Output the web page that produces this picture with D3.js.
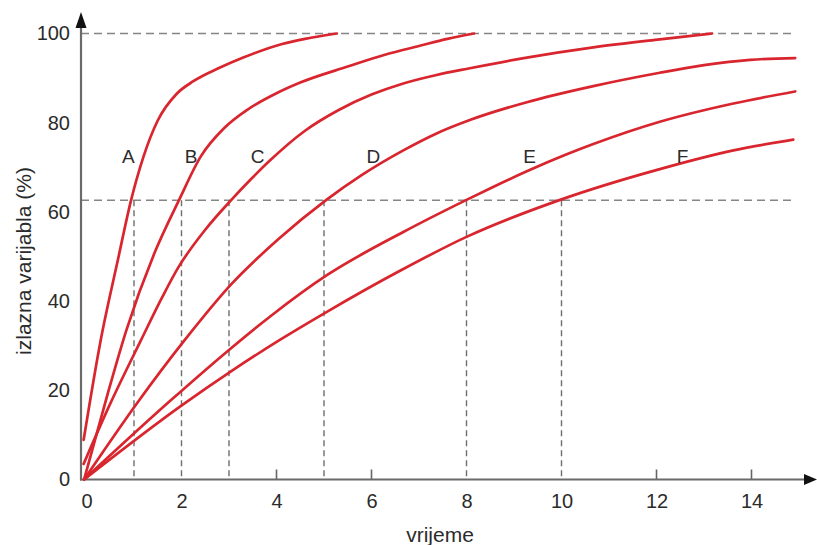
<!DOCTYPE html>
<html>
<head>
<meta charset="utf-8">
<script src="https://cdn.jsdelivr.net/npm/d3@7"></script>
<style>
  html, body { margin: 0; padding: 0; background: #fff; }
  svg { display: block; }
  text { font-family: "Liberation Sans", Arial, Helvetica, sans-serif; fill: #2b2b2b; }
</style>
</head>
<body>
<svg id="chart" width="817" height="545"></svg>
<script>
// ---- data ----
const xTicks = [0, 2, 4, 6, 8, 10, 12, 14];
const yTicks = [0, 20, 40, 60, 80, 100];
const timeConstants = [1, 2, 3, 5, 8, 10];   // dashed verticals
const refLevel = 62.6;                        // dashed horizontal (≈63.2 %)
const topLevel = 100;                         // dashed horizontal at 100 %
const curveNames = ["A", "B", "C", "D", "E", "F"];
const labelTimes = [0.88, 2.2, 3.6, 6.04, 9.33, 12.55];
const labelLevel = 72.5;

const curveA = [[-0.06, 8.9], [0.3, 31.3], [0.66, 49.2], [0.94, 62.7], [1.2, 72.4], [1.5, 80.5], [1.9, 86.5], [2.25, 89.3], [2.8, 92.3], [3.3, 94.6], [4.1, 97.6], [4.6, 98.8], [5.27, 100]];
const curveB = [[-0.05, 0], [0.43, 18.6], [0.84, 33.5], [1.44, 51.0], [1.95, 62.7], [2.41, 72.5], [2.9, 78.8], [3.4, 83.0], [4.0, 86.6], [4.5, 89.0], [5.5, 92.6], [6.3, 95.3], [7.0, 97.2], [7.6, 98.8], [8.16, 100]];
const curveC = [[-0.06, 3.5], [0.5, 17.0], [1.15, 31.3], [1.6, 41.0], [1.93, 47.5], [2.5, 56.0], [3.05, 62.7], [3.45, 67.2], [3.86, 71.5], [4.6, 78.2], [5.3, 82.8], [6.0, 86.3], [6.67, 88.8], [7.37, 90.7], [8.07, 92.2], [9.27, 94.6], [10.67, 96.9], [12.07, 98.7], [13.17, 100]];
const curveD = [[-0.05, 0], [1.09, 17.5], [2.07, 31.3], [3.05, 43.8], [4.03, 53.8], [5.05, 62.7], [5.8, 68.3], [6.67, 73.8], [7.37, 77.6], [8.07, 80.6], [9.27, 84.6], [10.67, 88.2], [12.07, 91.2], [13.0, 92.9], [13.97, 94.1], [14.92, 94.5]];
const curveE = [[-0.05, 0], [1.78, 17.8], [3.05, 29.5], [3.86, 36.5], [5.06, 45.8], [6.67, 55.5], [8.0, 62.7], [8.56, 65.6], [9.27, 69.1], [10.11, 72.9], [10.67, 75.2], [12.07, 80.2], [13.62, 84.3], [14.92, 87.0]];
const curveF = [[-0.05, 0], [1.99, 16.5], [3.05, 24.3], [4.07, 31.3], [5.06, 37.6], [6.6, 46.8], [8.0, 54.4], [9.97, 62.7], [12.07, 69.6], [13.62, 73.8], [14.88, 76.2]];
const curves = [curveA, curveB, curveC, curveD, curveE, curveF];

// ---- layout ----
const svg = d3.select("#chart");
const x = d3.scaleLinear().domain([0, 15]).range([86.5, 799]);
const y = d3.scaleLinear().domain([0, 100]).range([479.5, 33.5]);
const axisX = 81;        // y-axis line sits a little left of t = 0
const axisY = y(0);
const dashEnd = 793;
const red = "#d9252e";

// dashed guide lines
svg.append("g").selectAll("line.h")
  .data([topLevel, refLevel]).join("line")
  .attr("x1", axisX).attr("x2", dashEnd)
  .attr("y1", d => y(d)).attr("y2", d => y(d))
  .attr("stroke", "#858585").attr("stroke-width", 1.6)
  .attr("stroke-dasharray", "8,5");

svg.append("g").selectAll("line.v")
  .data(timeConstants).join("line")
  .attr("x1", d => x(d)).attr("x2", d => x(d))
  .attr("y1", y(refLevel)).attr("y2", axisY)
  .attr("stroke", "#6e6e6e").attr("stroke-width", 1.4)
  .attr("stroke-dasharray", "6,4");

// x axis with labels and upward ticks
const xAxis = d3.axisBottom(x).tickValues(xTicks).tickSize(0).tickPadding(14).tickFormat(d3.format("d"));
const gx = svg.append("g").attr("transform", `translate(0,${axisY})`).call(xAxis);
gx.select(".domain").remove();
gx.selectAll("text").attr("font-size", 20).style("fill", "#2b2b2b")
  .attr("font-family", "Liberation Sans, Arial, sans-serif");
svg.append("g").selectAll("line")
  .data(xTicks.filter(t => t > 0 && !timeConstants.includes(t))).join("line")
  .attr("x1", d => x(d)).attr("x2", d => x(d))
  .attr("y1", axisY).attr("y2", axisY - 10)
  .attr("stroke", "#666").attr("stroke-width", 1.6);

// y axis labels
const yAxis = d3.axisLeft(y).tickValues(yTicks).tickSize(0).tickPadding(11).tickFormat(d3.format("d"));
const gy = svg.append("g").attr("transform", `translate(${axisX},0)`).call(yAxis);
gy.select(".domain").remove();
gy.selectAll("text").attr("font-size", 20).style("fill", "#2b2b2b")
  .attr("font-family", "Liberation Sans, Arial, sans-serif");

// axis lines with arrows
svg.append("line").attr("x1", axisX).attr("x2", axisX).attr("y1", axisY + 1).attr("y2", 24)
  .attr("stroke", "#6a6a6a").attr("stroke-width", 2.2);
svg.append("line").attr("x1", axisX - 1).attr("x2", 808).attr("y1", axisY).attr("y2", axisY)
  .attr("stroke", "#6a6a6a").attr("stroke-width", 2.2);
svg.append("path").attr("d", `M${axisX},12 L${axisX - 5.5},28 L${axisX + 5.5},28 Z`).attr("fill", "#111");
svg.append("path").attr("d", `M817,${axisY} L804,${axisY - 5.5} L804,${axisY + 5.5} Z`).attr("fill", "#111");

// curves
const line = d3.line().x(d => x(d[0])).y(d => y(d[1])).curve(d3.curveMonotoneX);
svg.append("g").selectAll("path")
  .data(curves).join("path")
  .attr("d", line)
  .attr("fill", "none").attr("stroke", red).attr("stroke-width", 2.7)
  .attr("stroke-linecap", "round");

// curve letters
svg.append("g").selectAll("text")
  .data(curveNames).join("text")
  .attr("x", (d, i) => x(labelTimes[i]))
  .attr("y", y(labelLevel))
  .attr("text-anchor", "middle").attr("dominant-baseline", "central")
  .attr("font-size", 19)
  .text(d => d);

// axis titles
svg.append("text").attr("x", 440).attr("y", 534)
  .attr("text-anchor", "middle").attr("dominant-baseline", "central")
  .attr("font-size", 21).text("vrijeme");
svg.append("text").attr("transform", "translate(23,261) rotate(-90)")
  .attr("text-anchor", "middle").attr("dominant-baseline", "central")
  .attr("font-size", 21).text("izlazna varijabla (%)");
</script>
</body>
</html>
